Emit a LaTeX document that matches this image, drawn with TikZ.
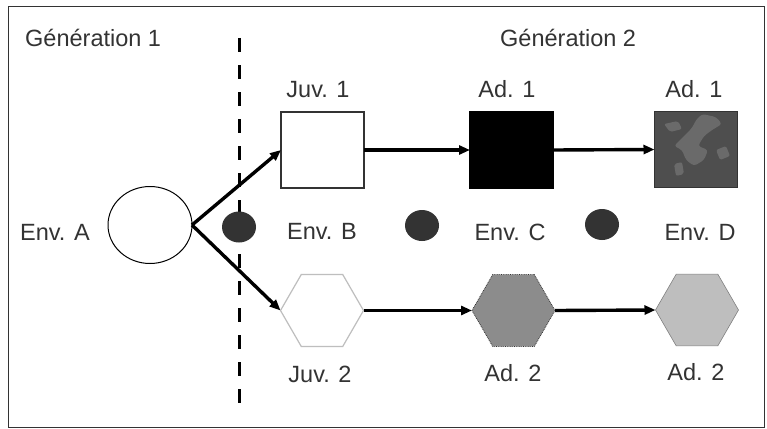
\documentclass[tikz,border=0pt]{standalone}
\usepackage{fontspec}
\setmainfont{Liberation Sans}
\usetikzlibrary{shapes.geometric,arrows.meta}
\definecolor{dotgray}{HTML}{333333}
\definecolor{texdark}{HTML}{4E4E4E}
\definecolor{texlight}{HTML}{6A6A6A}
\definecolor{hexmid}{HTML}{8C8C8C}
\definecolor{hexlight}{HTML}{BEBEBE}
\definecolor{txt}{HTML}{333333}
\tikzset{
  lbl/.style={anchor=base, font=\fontsize{23.5}{26}\selectfont, text=txt, inner sep=0pt},
  sq/.style={rectangle, minimum width=83pt, minimum height=76pt, inner sep=0pt, outer sep=0pt, line width=1.2pt},
  hexa/.style={regular polygon, regular polygon sides=6, minimum size=83pt, inner sep=0pt, outer sep=0pt},
  envdot/.style={ellipse, minimum width=34pt, minimum height=31pt, inner sep=0pt, fill=dotgray, draw=none},
  arr/.style={line width=3.4pt, -{Triangle[length=11pt,width=9pt]}},
}
\begin{document}
\begin{tikzpicture}[x=1pt,y=-1pt]
\useasboundingbox (0,0) rectangle (767,428);
\fill[white] (0,0) rectangle (767,428);
\draw[line width=1pt, draw=dotgray] (8,7) rectangle (764,427);

% titles
\node[lbl, anchor=base west] (g1) at (25,47) {Génération 1};
\node[lbl, anchor=base west] (g2) at (500,47) {Génération 2};

% dashed separator
\coordinate (dtop) at (239,38);
\coordinate (dbot) at (239,416);
\draw[line width=3pt, dash pattern=on 14pt off 13pt] (dtop) -- (dbot);

% top row labels
\node[lbl] (lj1) at (318,97) {Juv. 1};
\node[lbl] (la1) at (507,97) {Ad. 1};
\node[lbl] (lb1) at (694,97) {Ad. 1};

% top row shapes
\node[sq, draw=dotgray, fill=white] (j1) at (322.5,150) {};
\node[sq, draw=black, fill=black] (a1) at (511.5,150) {};
\node[sq, draw=dotgray, fill=texdark] (b1) at (696,149.5) {};
\begin{scope}
  \clip (655,112) rectangle (737,187);
  \fill[texlight, rounded corners=3pt] (702,114) -- (716,117) -- (722,124) -- (712,130) -- (704,136) -- (698,146) -- (708,150) -- (704,160) -- (694,166) -- (686,160) -- (682,150) -- (674,146) -- (682,138) -- (692,128) -- (696,120) -- cycle;
  \fill[texlight, rounded corners=2pt] (664,124) -- (678,121) -- (682,129) -- (670,132) -- cycle;
  \fill[texlight, rounded corners=2pt] (716,150) -- (726,146) -- (730,156) -- (720,160) -- cycle;
  \fill[texlight, rounded corners=2pt] (674,164) -- (682,162) -- (684,174) -- (676,176) -- cycle;
\end{scope}

% environment nodes
\node[ellipse, draw=black, line width=1pt, minimum width=84pt, minimum height=77pt, inner sep=0pt, outer sep=0pt, fill=white] (ea) at (150,225) {};
\node[lbl] (lea) at (55,240) {Env. A};
\node[envdot] (db) at (239,227) {};
\node[lbl] (leb) at (322,239) {Env. B};
\node[envdot] (dc) at (422,225.5) {};
\node[lbl] (lec) at (510,240) {Env. C};
\node[envdot] (dd) at (602,224.5) {};
\node[lbl] (led) at (700,240) {Env. D};

% bottom row shapes
\node[hexa, draw=hexlight, line width=1.2pt, fill=white] (j2) at (322,310.5) {};
\node[hexa, draw=dotgray, densely dotted, line width=0.8pt, fill=hexmid] (a2) at (513.5,310.5) {};
\node[hexa, draw=gray, line width=0.6pt, fill=hexlight] (b2) at (697,310) {};

% bottom row labels
\node[lbl] (lj2) at (320,382) {Juv. 2};
\node[lbl] (la2) at (513,381) {Ad. 2};
\node[lbl] (lb2) at (696,380) {Ad. 2};

% arrows
\draw[arr] (ea.east) -- (j1.west);
\draw[arr] (ea.east) -- (j2.west);
\draw[arr] (j1.east) -- (a1.west);
\draw[arr] (a1.east) -- (b1.west);
\draw[arr] (j2.east) -- (a2.west);
\draw[arr] (a2.east) -- (b2.west);
\end{tikzpicture}
\end{document}
